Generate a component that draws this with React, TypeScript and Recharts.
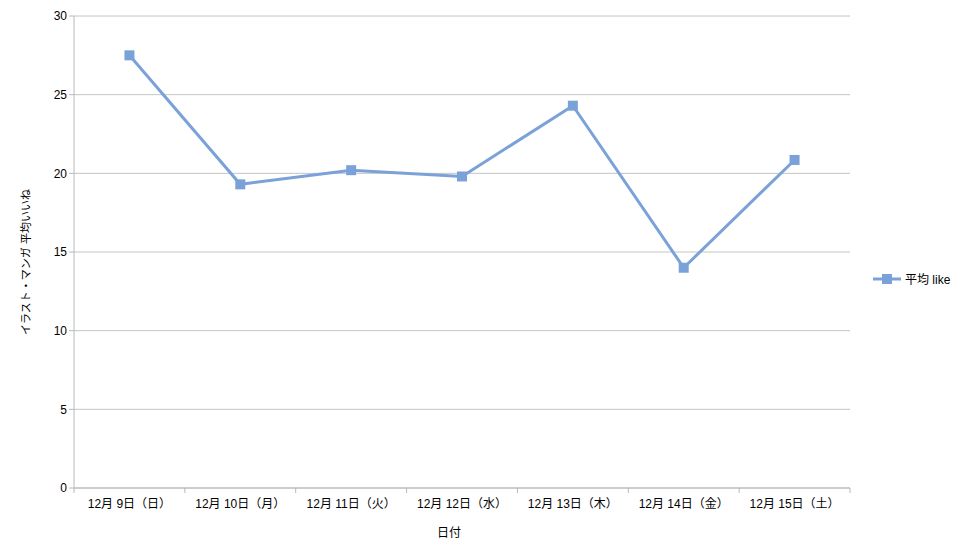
import { LineChart, Line, XAxis, YAxis, CartesianGrid, Legend } from "recharts";

const days = [
  "12月 9日（日）",
  "12月 10日（月）",
  "12月 11日（火）",
  "12月 12日（水）",
  "12月 13日（木）",
  "12月 14日（金）",
  "12月 15日（土）",
];
const avgLike = [27.5, 19.3, 20.2, 19.8, 24.3, 14.0, 20.85];
const yTicks = [0, 5, 10, 15, 20, 25, 30];

const data = days.map((day, i) => ({ day, like: avgLike[i] }));

const FONT = '"Liberation Sans", Arial, "Noto Sans CJK JP", sans-serif';
const LINE = "#7ba2d8";
const AXIS = "#b8b8b8";
const BAND = 776 / days.length;

function SquareDot(props: any) {
  const { cx, cy } = props;
  if (cx == null || cy == null) return null;
  return <rect x={cx - 5} y={cy - 5} width={10} height={10} fill={LINE} />;
}

function DayTick(props: any) {
  const { x, y, payload, index } = props;
  const left = x - BAND / 2;
  return (
    <g>
      <line x1={left} y1={y - 8} x2={left} y2={y - 3} stroke={AXIS} />
      {index === days.length - 1 && (
        <line x1={left + BAND} y1={y - 8} x2={left + BAND} y2={y - 3} stroke={AXIS} />
      )}
      <text x={x} y={y + 12} textAnchor="middle" fontSize={12} fill="#000" fontFamily={FONT}>
        {payload.value}
      </text>
    </g>
  );
}

function LegendBox() {
  return (
    <div style={{ display: "flex", alignItems: "center", fontFamily: FONT, fontSize: 12 }}>
      <svg width={30} height={12}>
        <line x1={1} y1={6} x2={29} y2={6} stroke={LINE} strokeWidth={3} />
        <rect x={10} y={1} width={10} height={10} fill={LINE} />
      </svg>
      <span style={{ marginLeft: 3 }}>平均 like</span>
    </div>
  );
}

export default function App() {
  return (
    <div style={{ position: "absolute", left: 0, top: 0, width: 960, height: 552, background: "#fff" }}>
      <LineChart
        width={960}
        height={552}
        data={data}
        margin={{ top: 16, right: 20, bottom: 0, left: 0 }}
      >
        <CartesianGrid vertical={false} stroke="#c4c4c4" />
        <XAxis
          dataKey="day"
          scale="band"
          height={64}
          stroke={AXIS}
          tickLine={false}
          tick={<DayTick />}
          interval={0}
          label={{
            content: () => (
              <text x={449} y={537} textAnchor="middle" fontSize={12} fill="#000" fontFamily={FONT}>
                日付
              </text>
            ),
          }}
        />
        <YAxis
          width={74}
          domain={[0, 30]}
          ticks={yTicks}
          stroke={AXIS}
          tickSize={5}
          tick={{ fill: "#000", fontSize: 12, fontFamily: FONT }}
          label={{
            content: () => (
              <text
                x={26}
                y={262}
                transform="rotate(-90 26 262)"
                textAnchor="middle"
                dominantBaseline="central"
                fontSize={11}
                fill="#000"
                fontFamily={FONT}
              >
                イラスト・マンガ 平均いいね
              </text>
            ),
          }}
        />
        <Legend
          layout="vertical"
          align="right"
          verticalAlign="middle"
          content={() => <LegendBox />}
          wrapperStyle={{ left: 872, top: 270, width: 90 }}
        />
        <Line
          type="linear"
          dataKey="like"
          name="平均 like"
          stroke={LINE}
          strokeWidth={3}
          dot={<SquareDot />}
          activeDot={false}
          isAnimationActive={false}
        />
      </LineChart>
    </div>
  );
}
